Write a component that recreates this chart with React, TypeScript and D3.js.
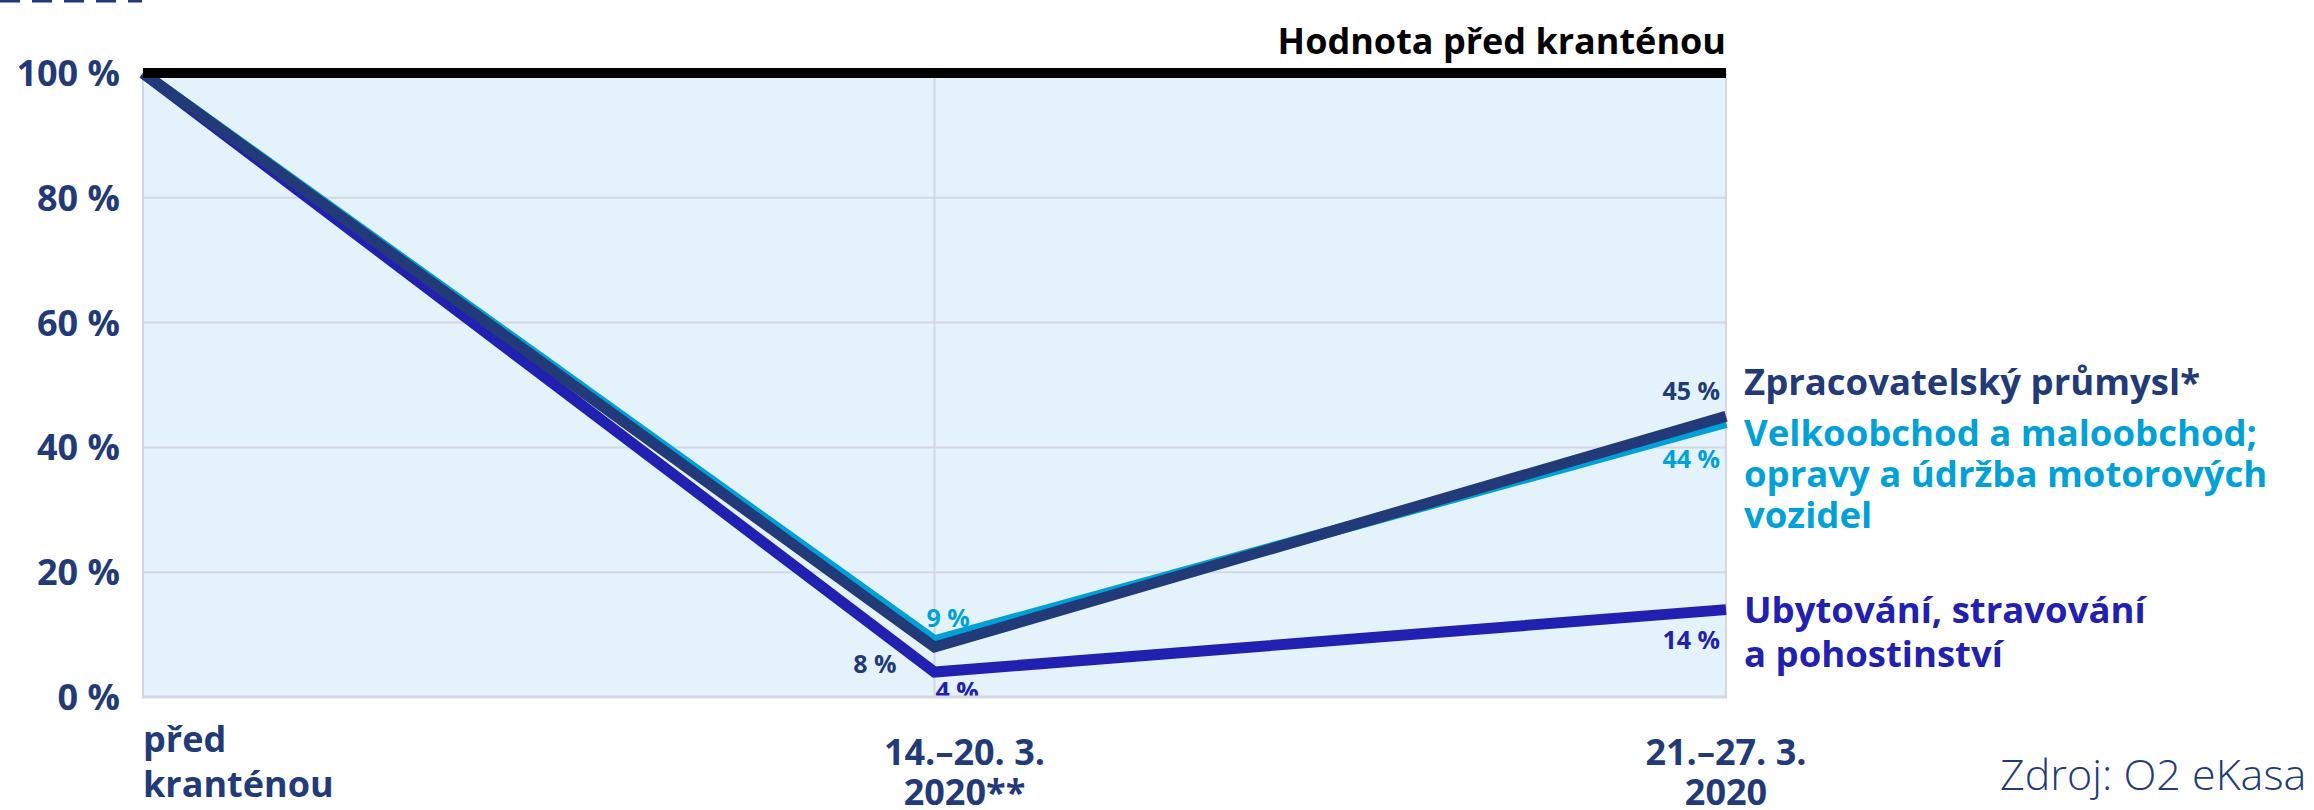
import * as d3 from "d3";

const periods = ["před kranténou", "14.–20. 3. 2020**", "21.–27. 3. 2020"];
const periodLines = [["před", "kranténou"], ["14.–20. 3.", "2020**"], ["21.–27. 3.", "2020"]];
const yTicks = [0, 20, 40, 60, 80, 100];

const manufacturing = [100, 8, 45];
const retail = [100, 9, 44];
const hospitality = [100, 4, 14];

const W = 2314;
const H = 810;
const margin = { top: 73, right: 588, bottom: 113, left: 143 };

const NAVY = "#223a78";
const CYAN = "#00a0d8";
const PURPLE = "#2220b0";
const FONT = "'Open Sans', 'DejaVu Sans', sans-serif";

export default function App() {
  const x = d3
    .scalePoint<string>()
    .domain(periods)
    .range([margin.left, W - margin.right]);
  const y = d3
    .scaleLinear()
    .domain([0, 100])
    .range([H - margin.bottom, margin.top]);

  const line = d3
    .line<number>()
    .x((_, i) => x(periods[i]) as number)
    .y((d) => y(d));

  const x0 = margin.left;
  const x1 = W - margin.right;
  const yb = y(0);
  const yt = y(100);

  // series drawn back to front
  const series = [
    { name: "retail", values: retail, color: CYAN },
    { name: "hospitality", values: hospitality, color: PURPLE },
    { name: "manufacturing", values: manufacturing, color: NAVY },
  ];

  const xm = x(periods[1]) as number;
  const xe = x(periods[2]) as number;
  const labelShift = [0, 30, 0];

  return (
    <svg
      width={W}
      height={H}
      style={{ position: "absolute", left: 0, top: 0, fontFamily: FONT }}
    >
      <defs>
        <clipPath id="plot">
          <rect x={x0} y={0} width={x1 - x0} height={yb} />
        </clipPath>
      </defs>

      {/* cropped marks at the very top */}
      <line x1={0} x2={142} y1={1} y2={1} stroke={NAVY} strokeWidth={3} strokeDasharray="20 12" />

      {/* plot background */}
      <rect x={x0} y={yt} width={x1 - x0} height={yb - yt} fill="#e4f3fb" />

      {/* grid */}
      {yTicks.slice(1, -1).map((t) => (
        <line key={t} x1={x0} x2={x1} y1={y(t)} y2={y(t)} stroke="#d3d7e4" strokeWidth={2} />
      ))}
      <line x1={xm} x2={xm} y1={yt} y2={yb} stroke="#d3d7e4" strokeWidth={2} />
      <line x1={x0} x2={x0} y1={yt} y2={yb} stroke="#d3d7e4" strokeWidth={2} />
      <line x1={x1} x2={x1} y1={yt} y2={yb} stroke="#d3d7e4" strokeWidth={2} />

      {/* y axis labels */}
      {yTicks.map((t) => (
        <text
          key={t}
          x={120}
          y={y(t) + 13}
          textAnchor="end"
          fontSize={36}
          fontWeight={700}
          fill={NAVY}
        >
          {t} %
        </text>
      ))}

      {/* lines */}
      {series.map((s) => (
        <path
          key={s.name}
          d={line(s.values) as string}
          fill="none"
          stroke={s.color}
          strokeWidth={11}
          strokeLinejoin="miter"
        />
      ))}

      {/* baseline 100 % */}
      <line x1={x0} x2={x1} y1={yt} y2={yt} stroke="#000" strokeWidth={10} />
      <text
        x={x1}
        y={yt - 19}
        textAnchor="end"
        fontSize={36}
        fontWeight={700}
        fill="#000"
      >
        Hodnota před kranténou
      </text>

      {/* value labels */}
      <g fontSize={25} fontWeight={700} clipPath="url(#plot)">
        <text x={xm - 8} y={y(retail[1]) - 14} fill={CYAN}>
          {retail[1]} %
        </text>
        <text x={xm - 38} y={y(manufacturing[1]) + 26} textAnchor="end" fill={NAVY}>
          {manufacturing[1]} %
        </text>
        <text x={xm + 1} y={y(hospitality[1]) + 28} fill={PURPLE}>
          {hospitality[1]} %
        </text>
        <text x={xe - 6} y={y(manufacturing[2]) - 16} textAnchor="end" fill={NAVY}>
          {manufacturing[2]} %
        </text>
        <text x={xe - 6} y={y(retail[2]) + 46} textAnchor="end" fill={CYAN}>
          {retail[2]} %
        </text>
        <text x={xe - 6} y={y(hospitality[2]) + 39} textAnchor="end" fill={PURPLE}>
          {hospitality[2]} %
        </text>
      </g>
      <line x1={x0 - 1} x2={x1 + 1} y1={yb} y2={yb} stroke="#d3d7e4" strokeWidth={3} />

      {/* series labels */}
      <g fontSize={36.5} fontWeight={700}>
        <text x={x1 + 18} y={395} fill={NAVY}>
          Zpracovatelský průmysl*
        </text>
        <text x={x1 + 18} y={446} fill={CYAN}>
          <tspan x={x1 + 18}>Velkoobchod a maloobchod;</tspan>
          <tspan x={x1 + 18} dy={41}>opravy a údržba motorových</tspan>
          <tspan x={x1 + 18} dy={41}>vozidel</tspan>
        </text>
        <text x={x1 + 18} y={623} fill={PURPLE}>
          <tspan x={x1 + 18}>Ubytování, stravování</tspan>
          <tspan x={x1 + 18} dy={44}>a pohostinství</tspan>
        </text>
      </g>

      {/* x axis labels */}
      <g fontSize={36} fontWeight={700} fill={NAVY}>
        <text x={x0} y={752}>
          <tspan x={x0}>{periodLines[0][0]}</tspan>
          <tspan x={x0} dy={45}>{periodLines[0][1]}</tspan>
        </text>
        {periods.slice(1).map((p, i) => {
          const cx = (x(p) as number) + labelShift[i + 1];
          return (
            <text key={p} x={cx} y={765} textAnchor="middle">
              <tspan x={cx}>{periodLines[i + 1][0]}</tspan>
              <tspan x={cx} dy={40}>
                {periodLines[i + 1][1]}
              </tspan>
            </text>
          );
        })}
      </g>

      {/* source */}
      <text x={2000} y={790} fontSize={43} fontWeight={300} fill={NAVY}>
        Zdroj: O2 eKasa
      </text>
    </svg>
  );
}
